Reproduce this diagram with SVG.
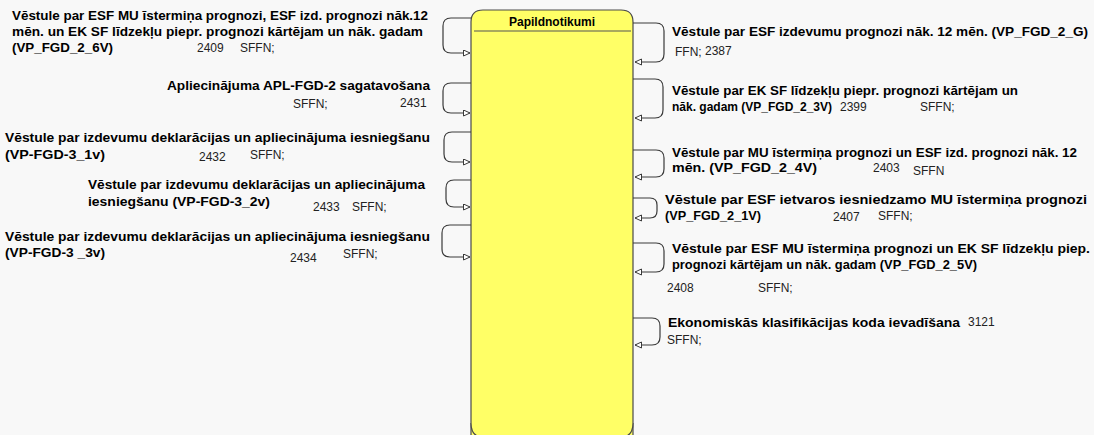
<svg xmlns="http://www.w3.org/2000/svg" width="1094" height="435" viewBox="0 0 1094 435">
<defs>
<style>
.b{font-family:"Liberation Sans",Arial,sans-serif;font-size:12px;font-weight:bold;fill:#000}
.r{font-family:"Liberation Sans",Arial,sans-serif;font-size:12px;fill:#222}
.c{fill:none;stroke:#3a3a3a;stroke-width:1.2}
</style>
<marker id="ar" markerWidth="8" markerHeight="8" refX="7" refY="3.5" orient="auto" markerUnits="userSpaceOnUse">
<path d="M0.5,0.5 L7,3.5 L0.5,6.5 Z" fill="#fff" stroke="#3a3a3a" stroke-width="1"/>
</marker>
</defs>
<rect width="1094" height="435" fill="#f8f8f8"/>

<g id="papildnotikumi">
<path d="M471,445 V22 Q471,10 483,10 H621 Q633,10 633,22 V445" fill="#ffff66" stroke="#4a4a4a" stroke-width="1.2"/>
<path d="M471,423 Q471,437 483,437 H621 Q633,437 633,423" fill="#ffff66" stroke="#4a4a4a" stroke-width="1.2"/>
<line x1="474" y1="31" x2="631" y2="31" stroke="#555" stroke-width="1.2"/>
<text class="b" x="552" y="26" text-anchor="middle">Papildnotikumi</text>
</g>

<g id="connectors">
<path class="c" d="M471,18 H451 Q443,18 443,26 V45 Q443,53 451,53 H470" marker-end="url(#ar)"/>
<path class="c" d="M471,83 H451 Q443,83 443,91 V105 Q443,113 451,113 H470" marker-end="url(#ar)"/>
<path class="c" d="M471,132 H452 Q444,132 444,140 V154 Q444,162 452,162 H470" marker-end="url(#ar)"/>
<path class="c" d="M471,180 H454 Q446,180 446,188 V199 Q446,207 454,207 H470" marker-end="url(#ar)"/>
<path class="c" d="M471,225 H450 Q442,225 442,233 V249 Q442,257 450,257 H470" marker-end="url(#ar)"/>

<path class="c" d="M633,23 H656 Q664,23 664,31 V54 Q664,62 656,62 H635" marker-end="url(#ar)"/>
<path class="c" d="M633,79 H655 Q663,79 663,87 V110 Q663,118 655,118 H635" marker-end="url(#ar)"/>
<path class="c" d="M633,150 H656 Q664,150 664,158 V169 Q664,177 656,177 H635" marker-end="url(#ar)"/>
<path class="c" d="M633,198 H650 Q657,198 657,205 V211 Q657,218 650,218 H635" marker-end="url(#ar)"/>
<path class="c" d="M633,243 H656 Q664,243 664,251 V264 Q664,272 656,272 H635" marker-end="url(#ar)"/>
<path class="c" d="M633,318 H652 Q660,318 660,326 V337 Q660,345 652,345 H635" marker-end="url(#ar)"/>
</g>

<g id="l1">
<text class="b" x="12" y="20" textLength="416" lengthAdjust="spacingAndGlyphs">Vēstule par ESF MU īstermiņa prognozi, ESF izd. prognozi nāk.12</text>
<text class="b" x="12" y="36" textLength="411" lengthAdjust="spacingAndGlyphs">mēn. un EK SF līdzekļu piepr. prognozi kārtējam un nāk. gadam</text>
<text class="b" x="12" y="52" textLength="101" lengthAdjust="spacingAndGlyphs">(VP_FGD_2_6V)</text>
<text class="r" x="197" y="52">2409</text>
<text class="r" x="240" y="52">SFFN;</text>
</g>

<g id="l2">
<text class="b" x="167" y="90" textLength="263" lengthAdjust="spacingAndGlyphs">Apliecinājuma APL-FGD-2 sagatavošana</text>
<text class="r" x="293" y="108">SFFN;</text>
<text class="r" x="400" y="107">2431</text>
</g>

<g id="l3">
<text class="b" x="5" y="142" textLength="425" lengthAdjust="spacingAndGlyphs">Vēstule par izdevumu deklarācijas un apliecinājuma iesniegšanu</text>
<text class="b" x="5" y="159" textLength="100" lengthAdjust="spacingAndGlyphs">(VP-FGD-3_1v)</text>
<text class="r" x="199" y="161">2432</text>
<text class="r" x="250" y="159">SFFN;</text>
</g>

<g id="l4">
<text class="b" x="88" y="189" textLength="337" lengthAdjust="spacingAndGlyphs">Vēstule par izdevumu deklarācijas un apliecinājuma</text>
<text class="b" x="88" y="206" textLength="182" lengthAdjust="spacingAndGlyphs">iesniegšanu (VP-FGD-3_2v)</text>
<text class="r" x="313" y="211">2433</text>
<text class="r" x="352" y="211">SFFN;</text>
</g>

<g id="l5">
<text class="b" x="5" y="241" textLength="425" lengthAdjust="spacingAndGlyphs">Vēstule par izdevumu deklarācijas un apliecinājuma iesniegšanu</text>
<text class="b" x="5" y="257" textLength="100" lengthAdjust="spacingAndGlyphs">(VP-FGD-3 _3v)</text>
<text class="r" x="290" y="262">2434</text>
<text class="r" x="343" y="258">SFFN;</text>
</g>

<g id="r1">
<text class="b" x="672" y="36" textLength="416" lengthAdjust="spacingAndGlyphs">Vēstule par ESF izdevumu prognozi nāk. 12 mēn. (VP_FGD_2_G)</text>
<text class="r" x="675" y="56">FFN;</text>
<text class="r" x="705" y="55">2387</text>
</g>

<g id="r2">
<text class="b" x="672" y="95" textLength="346" lengthAdjust="spacingAndGlyphs">Vēstule par EK SF līdzekļu piepr. prognozi kārtējam un</text>
<text class="b" x="672" y="111" textLength="160" lengthAdjust="spacingAndGlyphs">nāk. gadam (VP_FGD_2_3V)</text>
<text class="r" x="840" y="111">2399</text>
<text class="r" x="920" y="111">SFFN;</text>
</g>

<g id="r3">
<text class="b" x="672" y="157" textLength="405" lengthAdjust="spacingAndGlyphs">Vēstule par MU īstermiņa prognozi un ESF izd. prognozi nāk. 12</text>
<text class="b" x="672" y="172" textLength="145" lengthAdjust="spacingAndGlyphs">mēn. (VP_FGD_2_4V)</text>
<text class="r" x="873" y="172">2403</text>
<text class="r" x="913" y="175">SFFN</text>
</g>

<g id="r4">
<text class="b" x="665" y="204" textLength="422" lengthAdjust="spacingAndGlyphs">Vēstule par ESF ietvaros iesniedzamo MU īstermiņa prognozi</text>
<text class="b" x="665" y="220" textLength="96" lengthAdjust="spacingAndGlyphs">(VP_FGD_2_1V)</text>
<text class="r" x="833" y="221">2407</text>
<text class="r" x="878" y="220">SFFN;</text>
</g>

<g id="r5">
<text class="b" x="672" y="253" textLength="418" lengthAdjust="spacingAndGlyphs">Vēstule par ESF MU īstermiņa prognozi un EK SF līdzekļu piep.</text>
<text class="b" x="672" y="269" textLength="305" lengthAdjust="spacingAndGlyphs">prognozi kārtējam un nāk. gadam (VP_FGD_2_5V)</text>
<text class="r" x="667" y="292">2408</text>
<text class="r" x="758" y="292">SFFN;</text>
</g>

<g id="r6">
<text class="b" x="668" y="327" textLength="292" lengthAdjust="spacingAndGlyphs">Ekonomiskās klasifikācijas koda ievadīšana</text>
<text class="r" x="968" y="326">3121</text>
<text class="r" x="667" y="344">SFFN;</text>
</g>
</svg>
